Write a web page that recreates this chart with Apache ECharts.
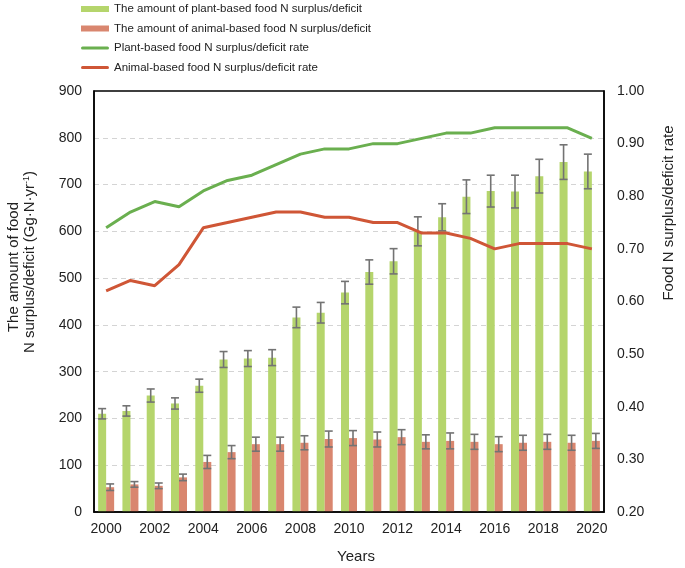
<!DOCTYPE html>
<html><head><meta charset="utf-8">
<script src="https://cdn.jsdelivr.net/npm/echarts@6/dist/echarts.min.js"></script>
<style>html,body{margin:0;padding:0;background:#fff}#c{width:685px;height:568px}</style>
</head><body><div id="c"></div>
<script>
const years = ['2000','2001','2002','2003','2004','2005','2006','2007','2008','2009','2010','2011','2012','2013','2014','2015','2016','2017','2018','2019','2020'];
const plantAmount = [210,216,249,232,270,326,328,330,416,426,469,513,536,600,630,674,686,685,718,748,728];
const plantErr =    [11,11,14,12,14,17,17,17,22,22,24,26,27,31,29,36,34,35,36,37,37];
const animalAmount = [53,59,56,74,107,128,145,145,148,156,158,155,160,150,152,150,145,148,150,148,152];
const animalErr =    [7,6,6,7,14,14,15,15,15,17,16,16,16,15,17,16,16,16,16,16,16];
const plantRate =  [0.74,0.77,0.79,0.78,0.81,0.83,0.84,0.86,0.88,0.89,0.89,0.90,0.90,0.91,0.92,0.92,0.93,0.93,0.93,0.93,0.91];
const animalRate = [0.62,0.64,0.63,0.67,0.74,0.75,0.76,0.77,0.77,0.76,0.76,0.75,0.75,0.73,0.73,0.72,0.70,0.71,0.71,0.71,0.70];
const leftTicks = {min:0, max:900, interval:100};
const rightTicks = {min:0.2, max:1.0, interval:0.1};

const FONT = 'Liberation Sans, Arial, sans-serif';
const BAR_W = 8;
const C_PLANT_BAR = '#b5d56c', C_ANIMAL_BAR = '#d9866f', C_PLANT_LINE = '#6aaf4f', C_ANIMAL_LINE = '#cf5636', C_ERR = '#737373';
const LINE_ICON = 'path://M1.5,0 L26.5,0 A1.5,1.5 0 0 1 26.5,3 L1.5,3 A1.5,1.5 0 0 1 1.5,0 Z';

function errSeries(vals, errs, offset) {
  return {
    type: 'custom', yAxisIndex: 0, z: 3, silent: true,
    data: vals.map((v, i) => [i, v, errs[i]]),
    renderItem: function (params, api) {
      const i = api.value(0), v = api.value(1), e = api.value(2);
      const top = api.coord([i, v + e]);
      const bot = api.coord([i, v - e]);
      const x = top[0] + offset;
      const cap = 4;
      const st = {stroke: C_ERR, lineWidth: 1.6};
      return {type: 'group', children: [
        {type: 'line', shape: {x1: x, y1: top[1], x2: x, y2: bot[1]}, style: st},
        {type: 'line', shape: {x1: x - cap, y1: top[1], x2: x + cap, y2: top[1]}, style: st},
        {type: 'line', shape: {x1: x - cap, y1: bot[1], x2: x + cap, y2: bot[1]}, style: st}
      ]};
    }
  };
}

const chart = echarts.init(document.getElementById('c'), null, {renderer: 'canvas'});
chart.setOption({
  animation: false,
  textStyle: {fontFamily: FONT},
  grid: {left: 94, right: 81, top: 91, bottom: 56, show: true, borderColor: '#000', borderWidth: 1.5, backgroundColor: 'transparent', z: 10},
  legend: {
    orient: 'vertical', left: 76, top: -2, itemWidth: 28, itemHeight: 6, itemGap: 7.5,
    textStyle: {fontSize: 11.5, color: '#222', fontFamily: FONT},
    data: [
      {name: 'The amount of plant-based food N surplus/deficit', icon: 'rect'},
      {name: 'The amount of animal-based food N surplus/deficit', icon: 'rect'},
      {name: 'Plant-based food N surplus/deficit rate', icon: LINE_ICON},
      {name: 'Animal-based food N surplus/deficit rate', icon: LINE_ICON}
    ]
  },
  xAxis: {
    type: 'category', data: years, boundaryGap: true,
    axisLine: {show: true, lineStyle: {color: '#000', width: 1.5}},
    axisTick: {show: false},
    axisLabel: {interval: 1, fontSize: 14, color: '#222', margin: 10}
  },
  yAxis: [
    {type: 'value', min: leftTicks.min, max: leftTicks.max, interval: leftTicks.interval,
     axisLine: {show: true, lineStyle: {color: '#000', width: 1.5}}, axisTick: {show: false},
     axisLabel: {fontSize: 14, color: '#222', margin: 12},
     splitLine: {show: true, showMaxLine: false, showMinLine: false, lineStyle: {color: '#d4d4d4', type: [5, 4], width: 1}}},
    {type: 'value', min: rightTicks.min, max: rightTicks.max, interval: rightTicks.interval, position: 'right',
     axisLine: {show: true, lineStyle: {color: '#000', width: 1.5}}, axisTick: {show: false},
     axisLabel: {fontSize: 14, color: '#222', margin: 13, formatter: v => v.toFixed(2)},
     splitLine: {show: false}}
  ],
  series: [
    {name: 'The amount of plant-based food N surplus/deficit', type: 'bar', yAxisIndex: 0, data: plantAmount,
     barWidth: BAR_W, barGap: '0%', itemStyle: {color: C_PLANT_BAR}, z: 2},
    {name: 'The amount of animal-based food N surplus/deficit', type: 'bar', yAxisIndex: 0, data: animalAmount,
     barWidth: BAR_W, barGap: '0%', itemStyle: {color: C_ANIMAL_BAR}, z: 2},
    errSeries(plantAmount, plantErr, -BAR_W / 2),
    errSeries(animalAmount, animalErr, BAR_W / 2),
    {name: 'Plant-based food N surplus/deficit rate', type: 'line', yAxisIndex: 1, data: plantRate,
     symbol: 'none', lineStyle: {color: C_PLANT_LINE, width: 3}, itemStyle: {color: C_PLANT_LINE}, z: 5},
    {name: 'Animal-based food N surplus/deficit rate', type: 'line', yAxisIndex: 1, data: animalRate,
     symbol: 'none', lineStyle: {color: C_ANIMAL_LINE, width: 3}, itemStyle: {color: C_ANIMAL_LINE}, z: 5}
  ],
  graphic: [
    {type: 'text', x: 14, y: 267, rotation: Math.PI / 2,
     style: {text: 'The amount of food', font: '15px ' + FONT, fill: '#222', align: 'center', verticalAlign: 'middle'}},
    {type: 'text', x: 30, y: 262, rotation: Math.PI / 2,
     style: {text: 'N surplus/deficit (Gg·N·yr{s|-1})', font: '15px ' + FONT, fill: '#222', align: 'center', verticalAlign: 'middle',
       rich: {s: {fontSize: 9, verticalAlign: 'top', fill: '#222', fontFamily: FONT}}}},
    {type: 'text', x: 669, y: 213, rotation: Math.PI / 2,
     style: {text: 'Food N surplus/deficit rate', font: '15px ' + FONT, fill: '#222', align: 'center', verticalAlign: 'middle'}},
    {type: 'text', x: 356, y: 557,
     style: {text: 'Years', font: '15px ' + FONT, fill: '#222', align: 'center', verticalAlign: 'middle'}}
  ]
});
</script></body></html>
